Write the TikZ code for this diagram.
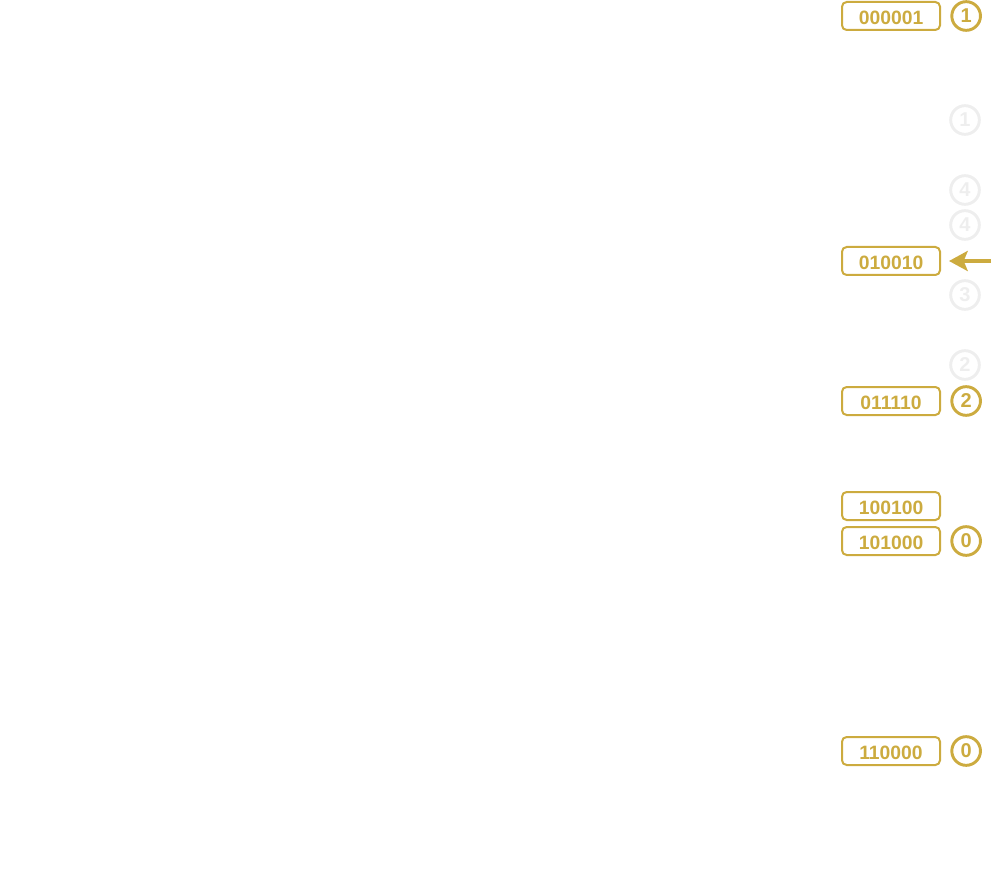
\documentclass[tikz,border=0pt]{standalone}
\usepackage{fontspec}
\setmainfont{Liberation Sans}
\usetikzlibrary{positioning}
\usetikzlibrary{arrows.meta}
\definecolor{gold}{HTML}{CCAB3F}
\definecolor{faint}{HTML}{EEEEEE}

\begin{document}
\begin{tikzpicture}[x=0.75pt, y=-0.75pt,
    code/.style={draw=gold, line width=1.5pt, rounded corners=3.5pt, text=gold,
      font=\bfseries\fontsize{14.5}{16}\selectfont, minimum width=73.5pt,
      minimum height=21pt, inner sep=0pt, text height=13pt, text depth=0pt},
    tag/.style={circle, draw=gold, line width=2.2pt, text=gold,
      font=\bfseries\fontsize{15}{16}\selectfont, minimum size=21.5pt, inner sep=0pt},
    ghost/.style={tag, draw=faint, text=faint}]
    \useasboundingbox (0,0) rectangle (1002,873);

    \node [code] (b1) at (891,16) {000001};
    \node [code] (b2) at (891,261) {010010};
    \node [code] (b3) at (891,401) {011110};
    \node [code] (b4) at (891,506) {100100};
    \node [code] (b5) at (891,541) {101000};
    \node [code] (b6) at (891,751) {110000};

    \node [tag, right=7pt of b1] (c1) {1};
    \node [tag, right=7pt of b3] (c2) {2};
    \node [tag, right=7pt of b5] (c3) {0};
    \node [tag, right=7pt of b6] (c4) {0};

    \node [ghost] (g1) at (965,120) {1};
    \node [ghost] (g2) at (965,190) {4};
    \node [ghost] (g3) at (965,225) {4};
    \node [ghost] (g4) at (965,295) {3};
    \node [ghost] (g5) at (965,365) {2};

    \coordinate (tail) at (991,261);
    \draw [gold, line width=3pt, -{Stealth[length=14pt, width=15pt, inset=3pt]}, shorten >=6pt] (tail) -- (b2);
\end{tikzpicture}
\end{document}
